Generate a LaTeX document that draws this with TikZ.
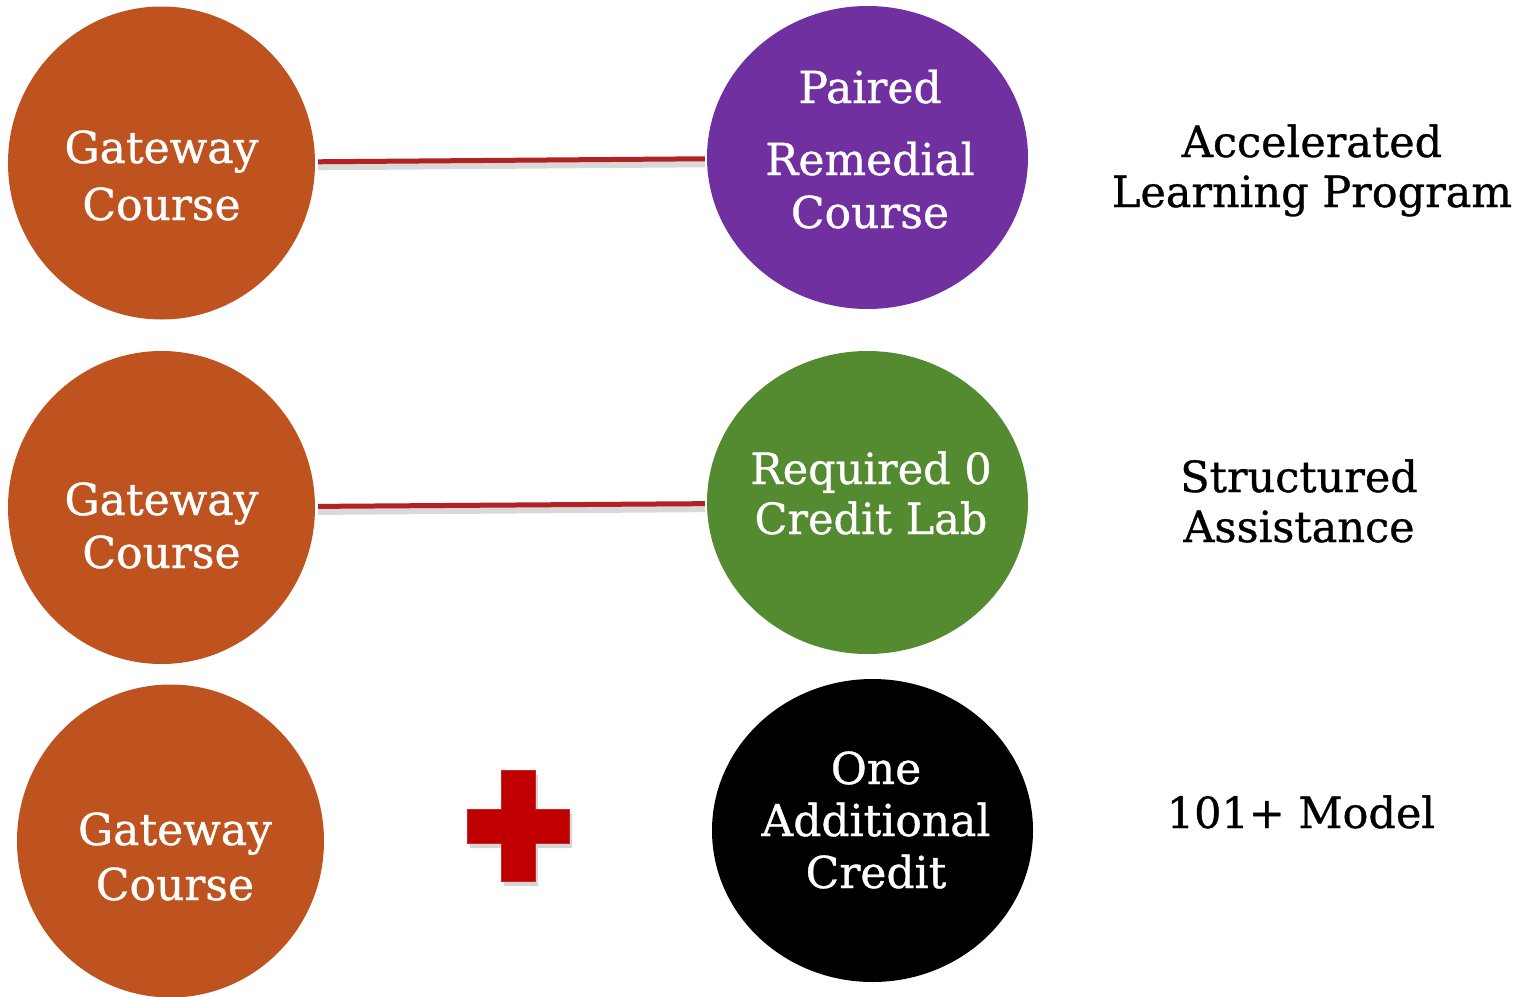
\documentclass[tikz,border=0pt]{standalone}
\usepackage{fontspec}
\setmainfont{DejaVu Serif}
\newfontfamily\heavyserif{DejaVu Serif}[FakeBold=0.8]
\usetikzlibrary{shapes.geometric}
\definecolor{gateway}{RGB}{190,83,32}
\definecolor{paired}{RGB}{112,48,160}
\definecolor{labgreen}{RGB}{85,139,48}
\definecolor{linkred}{RGB}{178,34,34}
\definecolor{plusred}{RGB}{192,0,0}
\tikzset{
  bubble/.style={ellipse, inner sep=0pt, draw=none},
  gatewaybubble/.style={bubble, fill=gateway, minimum width=307pt, minimum height=313pt},
  sidebubble/.style={bubble, minimum width=321pt, minimum height=303pt},
  intext/.style={text=white, align=center, anchor=base, inner sep=0pt,
    font=\heavyserif\fontsize{44}{57}\selectfont},
  sidetext/.style={text=black, align=center, anchor=base, inner sep=0pt,
    font=\heavyserif\fontsize{43}{51}\selectfont},
  link/.style={draw=linkred, line width=5pt, shorten <=3pt, shorten >=2pt},
  linkshadow/.style={draw=black!50, opacity=0.3, line width=7pt, shorten <=3pt, shorten >=2pt},
}
\begin{document}
\begin{tikzpicture}[x=1pt, y=-1pt]
  \useasboundingbox (0,0) rectangle (1531,996);

  % left column: gateway courses
  \node[gatewaybubble] (g1) at (161.5,163) {};
  \node[gatewaybubble] (g2) at (161.5,507.5) {};
  \node[gatewaybubble] (g3) at (170.5,841) {};

  % middle column: support components
  \node[sidebubble, fill=paired]    (p1) at (867.5,157.5) {};
  \node[sidebubble, fill=labgreen]  (p2) at (867.5,502.5) {};
  \node[sidebubble, fill=black]     (p3) at (872.5,830.5) {};

  % connectors with soft shadow
  \draw[linkshadow, transform canvas={yshift=-5pt}] (g1) -- (p1);
  \draw[linkshadow, transform canvas={yshift=-5pt}] (g2) -- (p2);
  \draw[link] (g1) -- (p1);
  \draw[link] (g2) -- (p2);

  % plus sign
  \fill[black!40, opacity=0.4]
    (470,814) -- (504,814) -- (504,775) -- (538,775) -- (538,814) -- (572,814)
    -- (572,848) -- (538,848) -- (538,886) -- (504,886) -- (504,848) -- (470,848) -- cycle;
  \filldraw[fill=plusred, draw=plusred!85!white, line width=0.8pt]
    (467,809) -- (501,809) -- (501,770) -- (535,770) -- (535,809) -- (569,809)
    -- (569,843) -- (535,843) -- (535,881) -- (501,881) -- (501,843) -- (467,843) -- cycle;

  % bubble texts (anchored on the baseline of the last line)
  \node[intext] (g1t) at (161.5,220) {Gateway\\Course};
  \node[intext, font=\heavyserif\fontsize{44}{53}\selectfont] (g2t) at (161.5,568) {Gateway\\Course};
  \node[intext, font=\heavyserif\fontsize{44}{55}\selectfont] (g3t) at (175,900) {Gateway\\Course};

  \node[intext] (p1a) at (870,103) {Paired};
  \node[intext, font=\heavyserif\fontsize{44}{53}\selectfont] (p1b) at (870,228) {Remedial\\Course};
  \node[intext, font=\heavyserif\fontsize{43}{50}\selectfont] (p2t) at (871,534) {Required 0\\Credit Lab};
  \node[intext, font=\heavyserif\fontsize{44}{52}\selectfont] (p3t) at (876,888) {One\\Additional\\Credit};

  % program names
  \node[sidetext, font=\heavyserif\fontsize{43}{50}\selectfont] (n1) at (1312,207) {Accelerated\\Learning Program};
  \node[sidetext, font=\heavyserif\fontsize{43}{50}\selectfont] (n2) at (1299,542) {Structured\\Assistance};
  \node[sidetext] (n3) at (1301,828) {101+ Model};
\end{tikzpicture}
\end{document}
